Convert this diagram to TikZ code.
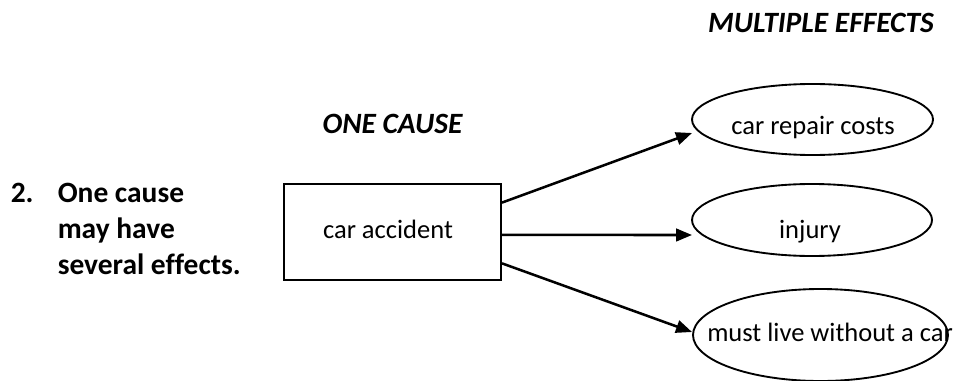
\documentclass[tikz,border=0pt]{standalone}
\usepackage{fontspec}
\setmainfont{Carlito}[Ligatures=NoCommon]
\usetikzlibrary{arrows.meta,shapes.geometric,calc}
\begin{document}
\begin{tikzpicture}[x=0.75pt,y=-0.75pt,
  body/.style={font=\fontsize{19.9}{24}\selectfont, inner sep=0},
  lead/.style={font=\fontsize{22.1}{27}\selectfont\bfseries, inner sep=0},
  head/.style={font=\fontsize{22.1}{27}\selectfont\bfseries\itshape, inner sep=0},
  causebox/.style={draw, line width=1.5pt, inner sep=0,
    minimum width=162.75pt, minimum height=72pt},
  effect/.style={draw, ellipse, line width=1.4pt, inner sep=0},
  link/.style={-{Triangle[length=12pt,width=9.5pt]}, line width=1.9pt}]
\clip (0,0) rectangle (955,381);

% headings
\node[head, anchor=base] (hcause) at (392.5,133) {ONE CAUSE};
\node[head, anchor=base] (heffects) at (821,33) {MULTIPLE EFFECTS};

% numbered statement
\node[lead, anchor=base west] (num) at (10.5,202) {2.};
\node[lead, anchor=base west] (s1) at (57.5,202) {One cause};
\node[lead, anchor=base west] (s2) at (57.5,238) {may have};
\node[lead, anchor=base west] (s3) at (57.5,274) {several effects.};

% the cause
\node[causebox] (cause) at (392.5,232) {};
\node[body, anchor=base] (causet) at (388,238) {car accident};

% the effects
\node[effect, minimum width=180.75pt, minimum height=53.25pt] (e1) at (812.5,119.5) {};
\node[effect, minimum width=180pt, minimum height=54pt] (e2) at (812,220) {};
\node[effect, minimum width=191.25pt, minimum height=69pt] (e3) at (820.5,335) {};
\node[body, anchor=base] (e1t) at (813,135) {car repair costs};
\node[body, anchor=base] (e2t) at (810,238) {injury};
\node[body, anchor=base west] (e3t) at (707,341) {must live without a car};

% arrow tips just left of each effect
\coordinate (t1) at (692,133);
\coordinate (t2) at (692,235);
\coordinate (t3) at (692,332);

\draw[link] ($(cause.north east)!0.2!(cause.south east)$) -- (t1);
\draw[link] ($(cause.north east)!0.53!(cause.south east)$) -- (t2);
\draw[link] ($(cause.north east)!0.82!(cause.south east)$) -- (t3);
\end{tikzpicture}
\end{document}
